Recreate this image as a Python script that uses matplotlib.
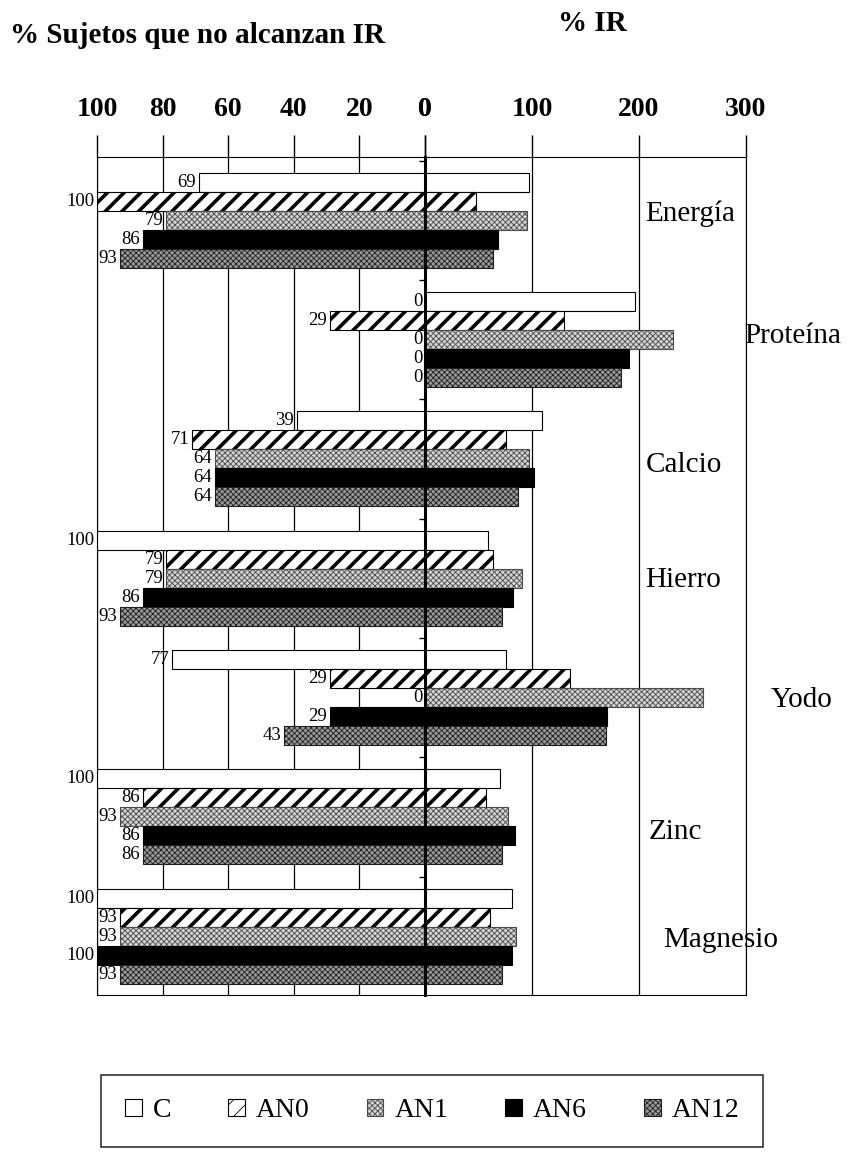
import matplotlib.pyplot as plt
import numpy as np

plt.rcParams['font.family'] = ['Liberation Serif', 'DejaVu Serif']

nutrients = ['Energía', 'Proteína', 'Calcio', 'Hierro', 'Yodo', 'Zinc', 'Magnesio']
series = ['C', 'AN0', 'AN1', 'AN6', 'AN12']

# % sujetos que no alcanzan IR (left half)
below_C = [69, 0, 39, 100, 77, 100, 100]
below_AN0 = [100, 29, 71, 79, 29, 86, 93]
below_AN1 = [79, 0, 64, 79, 0, 93, 93]
below_AN6 = [86, 0, 64, 86, 29, 86, 100]
below_AN12 = [93, 0, 64, 93, 43, 86, 93]

# % IR (right half)
ir_C = [97, 196, 109, 59, 76, 70, 81]
ir_AN0 = [48, 130, 76, 64, 136, 57, 61]
ir_AN1 = [95, 232, 97, 91, 260, 78, 85]
ir_AN6 = [68, 191, 102, 82, 170, 84, 81]
ir_AN12 = [64, 183, 87, 72, 169, 72, 72]

left_ticks = [100, 80, 60, 40, 20, 0]
right_ticks = [0, 100, 200, 300]

below = [below_C, below_AN0, below_AN1, below_AN6, below_AN12]
ir = [ir_C, ir_AN0, ir_AN1, ir_AN6, ir_AN12]

# bar styles: face, edge, hatch, hatch linewidth
styles = [
    dict(fc='white', ec='black', hatch=None, hlw=1.0),
    dict(fc='white', ec='black', hatch='//', hlw=2.6),
    dict(fc='#d4d4d4', ec='#4a4a4a', hatch='xxxxxx', hlw=0.6),
    dict(fc='black', ec='black', hatch=None, hlw=1.0),
    dict(fc='#9a9a9a', ec='#1e1e1e', hatch='xxxxxx', hlw=0.6),
]

# layout (bar height = 1 unit)
top_pad = 0.83
pitch = 6.28
ymax = 44.1
label_x = [206, 298, 206, 206, 323, 209, 223]
label_dy = [-0.35, -0.2, 0.3, 0.1, 0.15, 0.8, 0.2]

fig = plt.figure(figsize=(8.68, 11.56), dpi=100)
axL = fig.add_axes([0.1118, 0.1393, 0.3778, 0.7249])
axR = fig.add_axes([0.4896, 0.1393, 0.3698, 0.7249])

base = top_pad + pitch * np.arange(len(nutrients))

handles = []
for j, name in enumerate(series):
    st = styles[j]
    y = base + j + 0.5
    plt.rcParams['hatch.linewidth'] = st['hlw']
    bl = axL.barh(y, below[j], height=1.0, color=st['fc'], edgecolor=st['ec'],
                  hatch=st['hatch'], linewidth=0.8, label=name)
    br = axR.barh(y, ir[j], height=1.0, color=st['fc'], edgecolor=st['ec'],
                  hatch=st['hatch'], linewidth=0.8)
    for p in list(bl) + list(br):
        if hasattr(p, 'set_hatch_linewidth'):
            p.set_hatch_linewidth(st['hlw'])
    handles.append(bl)
    for yy, v in zip(y, below[j]):
        axL.annotate(str(v), (v, yy), xytext=(-2, 0), textcoords='offset points',
                     ha='right', va='center', fontsize=13.5, annotation_clip=False)

axL.set_xlim(100, 0)
axR.set_xlim(0, 300)
for ax in (axL, axR):
    ax.set_ylim(ymax, 0)
    ax.set_facecolor('none')
    ax.xaxis.tick_top()
    ax.tick_params(axis='x', direction='out', length=16, width=1, pad=9,
                   labelsize=20)
    ax.set_axisbelow(True)
    ax.grid(axis='x', color='black', linewidth=0.9)

axL.set_xticks(left_ticks)
axL.set_xticklabels([str(t) for t in left_ticks], fontweight='bold')
axR.set_xticks(right_ticks)
axR.set_xticklabels([str(t) for t in right_ticks], fontweight='bold')
axL.set_yticks([])
axL.spines['right'].set_visible(False)
axR.spines['left'].set_linewidth(2.2)
for ax in (axL, axR):
    for s in ax.spines.values():
        s.set_color('black')

# small marks on the central axis between groups
axR.set_yticks(base - 0.64)
axR.set_yticklabels([])
axR.tick_params(axis='y', direction='out', length=4, width=1)

for i, name in enumerate(nutrients):
    axR.text(label_x[i], base[i] + 2.5 + label_dy[i], name, ha='left', va='center',
             fontsize=21, clip_on=False)

fig.text(0.012, 0.969, '% Sujetos que no alcanzan IR', fontsize=21,
         fontweight='bold', ha='left', va='center')
fig.text(0.682, 0.980, '% IR', fontsize=21, fontweight='bold',
         ha='center', va='center')

leg = fig.legend(handles=handles, labels=series, loc='center',
                 bbox_to_anchor=(0.498, 0.039),
                 ncol=5, fontsize=20, frameon=True, fancybox=False,
                 handlelength=0.6, handleheight=0.6, handletextpad=0.4,
                 columnspacing=2.05, borderpad=0.85, borderaxespad=0)
leg.get_frame().set_edgecolor('black')
leg.get_frame().set_linewidth(1.2)

fig.savefig('out.png', dpi=100)
